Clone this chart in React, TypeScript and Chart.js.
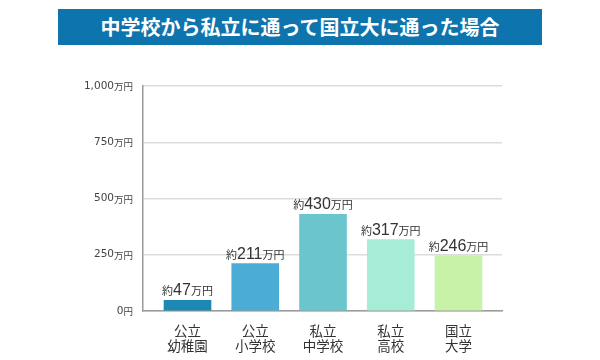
import React, { useEffect, useRef } from "react";
import { Chart, registerables } from "chart.js";

Chart.register(...registerables);

const titleText = "中学校から私立に通って国立大に通った場合";
const categoriesLine1 = ["公立", "公立", "私立", "私立", "国立"];
const categoriesLine2 = ["幼稚園", "小学校", "中学校", "高校", "大学"];
const values = [47, 211, 430, 317, 246];
const barColors = ["#1d88b4", "#4badd6", "#6bc5cc", "#a6ecd7", "#c8f2a7"];
const yTicks = [0, 250, 500, 750, 1000];

const CJK = "'Noto Sans CJK JP', sans-serif";
const NUM = "'Liberation Sans', 'Noto Sans CJK JP', sans-serif";
const TICKNUM = "'DejaVu Sans', 'Noto Sans CJK JP', sans-serif";

const labelPlugin = {
  id: "customLabels",
  afterDraw(chart: any) {
    const ctx = chart.ctx as CanvasRenderingContext2D;
    const xs = chart.scales.x;
    const ys = chart.scales.y;
    ctx.save();
    // y tick labels
    ctx.textBaseline = "middle";
    yTicks.forEach((t) => {
      const py = ys.getPixelForValue(t);
      const unit = t === 0 ? "円" : "万円";
      const num = t === 0 ? "0" : t.toLocaleString("en-US");
      const right = xs.left - 10;
      ctx.fillStyle = "#444";
      ctx.font = `9.5px ${CJK}`;
      const uw = ctx.measureText(unit).width;
      ctx.textAlign = "right";
      ctx.fillText(unit, right, py + 0.5);
      ctx.font = `10.5px ${TICKNUM}`;
      ctx.fillText(num, right - uw, py);
    });
    // x labels
    ctx.textAlign = "center";
    ctx.textBaseline = "middle";
    ctx.fillStyle = "#333";
    ctx.font = `13.5px ${CJK}`;
    values.forEach((_, i) => {
      const px = xs.getPixelForValue(i);
      ctx.fillText(categoriesLine1[i], px, 331);
      ctx.fillText(categoriesLine2[i], px, 346);
    });
    // value labels
    ctx.textBaseline = "alphabetic";
    ctx.textAlign = "left";
    values.forEach((v, i) => {
      const px = xs.getPixelForValue(i);
      const py = ys.getPixelForValue(v) - 5;
      const parts = [
        { t: "約", f: `11px ${CJK}` },
        { t: String(v), f: `16px ${NUM}` },
        { t: "万円", f: `11px ${CJK}` },
      ];
      let total = 0;
      const widths = parts.map((p) => {
        ctx.font = p.f;
        const w = ctx.measureText(p.t).width;
        total += w;
        return w;
      });
      let x = px - total / 2;
      ctx.fillStyle = "#333";
      parts.forEach((p, k) => {
        ctx.font = p.f;
        ctx.fillText(p.t, x, py);
        x += widths[k];
      });
    });
    ctx.restore();
  },
};

export default function App() {
  const ref = useRef<HTMLCanvasElement | null>(null);
  useEffect(() => {
    document.body.style.margin = "0";
    if (!ref.current) return;
    const chart = new Chart(ref.current, {
      type: "bar",
      data: {
        datasets: [
          {
            data: values.map((v, i) => ({ x: i, y: v })),
            backgroundColor: barColors,
            borderWidth: 0,
            barThickness: 47,
          } as any,
        ],
      },
      options: {
        animation: false,
        responsive: false,
        layout: { padding: { left: 143, right: 98, top: 86, bottom: 49 } },
        plugins: { legend: { display: false }, tooltip: { enabled: false } },
        scales: {
          x: {
            type: "linear",
            offset: false,
            bounds: "data",
            min: -0.657,
            max: 4.642,
            grid: { display: false, drawTicks: false, offset: false },
            ticks: { display: false },
            border: { display: true, color: "#9a9a9a", width: 1.5 },
          },
          y: {
            min: 0,
            max: 1000,
            afterBuildTicks: (scale: any) => {
              scale.ticks = yTicks.map((v) => ({ value: v }));
            },
            grid: { color: "#dcdcdc", lineWidth: 1.5, drawTicks: false },
            ticks: { display: false },
            border: { display: true, color: "#9a9a9a", width: 1.5 },
          },
        },
      } as any,
      plugins: [labelPlugin],
    });
    return () => chart.destroy();
  }, []);
  return (
    <div style={{ position: "relative", width: 600, height: 360, background: "#fff" }}>
      <canvas ref={ref} width={600} height={360} style={{ position: "absolute", left: 0, top: 0 }} />
      <div
        style={{
          position: "absolute",
          left: 58,
          top: 9,
          width: 484,
          height: 36,
          background: "#0e74ad",
          color: "#fff",
          fontFamily: CJK,
          fontWeight: 700,
          fontSize: 20,
          lineHeight: "36px",
          textAlign: "center",
        }}
      >
        {titleText}
      </div>
    </div>
  );
}
